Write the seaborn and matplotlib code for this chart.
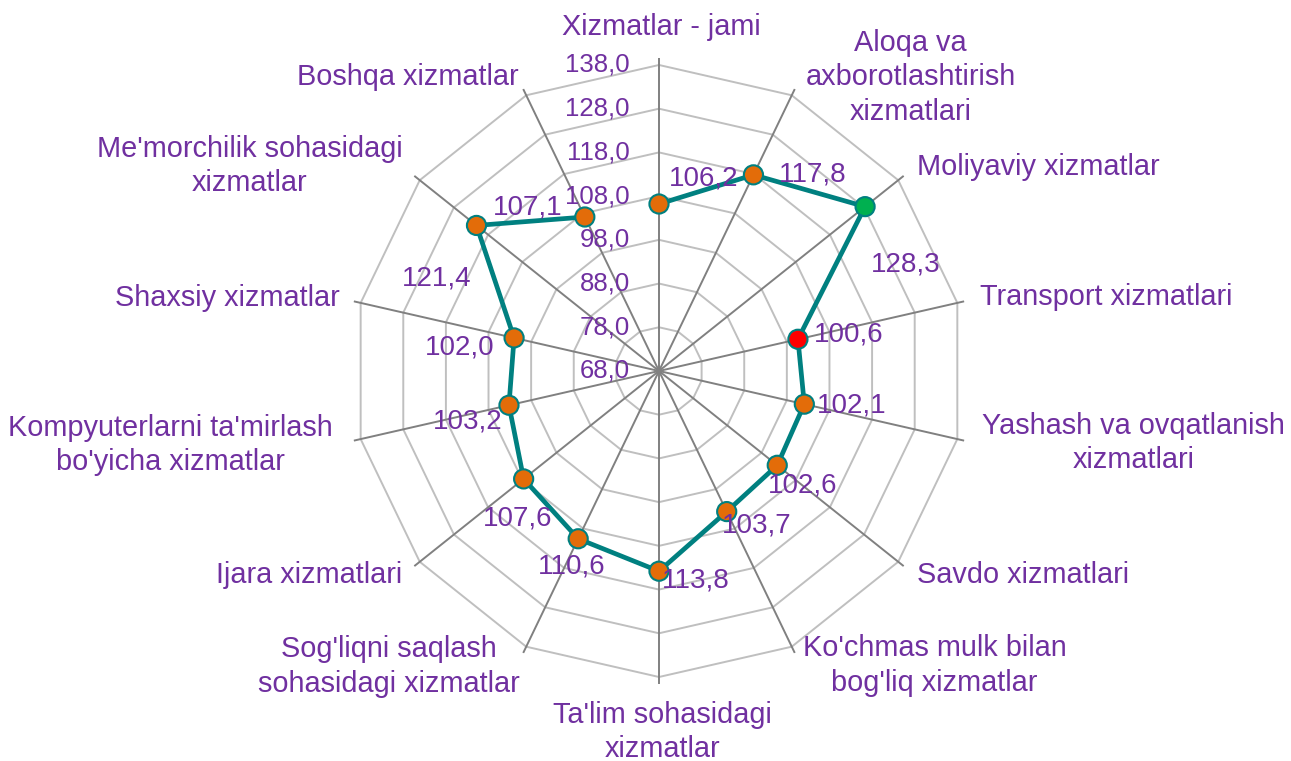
import numpy as np
import pandas as pd
import matplotlib
matplotlib.use("Agg")
import matplotlib.pyplot as plt
import seaborn as sns

# ---------------- data ----------------
categories = [
    "Xizmatlar - jami",
    "Aloqa va\naxborotlashtirish\nxizmatlari",
    "Moliyaviy xizmatlar",
    "Transport xizmatlari",
    "Yashash va ovqatlanish\nxizmatlari",
    "Savdo xizmatlari",
    "Ko'chmas mulk bilan\nbog'liq xizmatlar",
    "Ta'lim sohasidagi\nxizmatlar",
    "Sog'liqni saqlash\nsohasidagi xizmatlar",
    "Ijara xizmatlari",
    "Kompyuterlarni ta'mirlash\nbo'yicha xizmatlar",
    "Shaxsiy xizmatlar",
    "Me'morchilik sohasidagi\nxizmatlar",
    "Boshqa xizmatlar",
]
values = [106.2, 117.8, 128.3, 100.6, 102.1, 102.6, 103.7,
          113.8, 110.6, 107.6, 103.2, 102.0, 121.4, 107.1]
ring_ticks = [68.0, 78.0, 88.0, 98.0, 108.0, 118.0, 128.0, 138.0]
marker_colors = ["#E36C09", "#E36C09", "#00B050", "#FF0000", "#E36C09", "#E36C09", "#E36C09",
                 "#E36C09", "#E36C09", "#E36C09", "#E36C09", "#E36C09", "#E36C09", "#E36C09"]

# ---------------- style ----------------
sns.set_theme(style="white")
plt.rcParams["font.family"] = ["Liberation Sans", "DejaVu Sans"]
PURPLE = "#7030A0"
TEAL = "#008080"

def fmt(v):
    return f"{v:.1f}".replace(".", ",")

n = len(categories)
theta = np.arange(n) * 2 * np.pi / n
r_min, r_max = ring_ticks[0], ring_ticks[-1]
r_edge = 139.6

fig = plt.figure(figsize=(12.91, 7.61), dpi=100)
ax = fig.add_axes([0.268, 0.1012, 0.4849, 0.8226], projection="polar")
ax.set_theta_zero_location("N")
ax.set_theta_direction(-1)
ax.set_ylim(r_min, r_edge)
ax.grid(False)
ax.set_xticks([])
ax.set_yticks([])
ax.spines["polar"].set_visible(False)
ax.patch.set_alpha(0)

theta_closed = np.append(theta, theta[0])

# polygon rings
for r in ring_ticks[1:]:
    ax.plot(theta_closed, [r] * (n + 1), color="#BFBFBF", lw=1.4, zorder=1)
# spokes
for t in theta:
    ax.plot([t, t], [r_min, r_edge], color="#808080", lw=1.4, zorder=1.5)

# tick labels
for r in ring_ticks:
    ax.annotate(fmt(r), xy=(0, r), xytext=(-29, 0), textcoords="offset pixels",
                ha="right", va="center", fontsize=18.5, color=PURPLE, zorder=2)

# data line
df = pd.DataFrame({"theta": theta_closed, "value": values + [values[0]]})
sns.lineplot(data=df, x="theta", y="value", sort=False, ax=ax, color=TEAL, lw=3.4,
             zorder=3, legend=False)
pts = pd.DataFrame({"theta": theta, "value": values, "c": marker_colors})
ax.scatter(pts["theta"], pts["value"], s=190, c=pts["c"], edgecolors=TEAL,
           linewidths=1.5, zorder=4, clip_on=False)

# data labels (offsets in pixels, screen-down positive for second number)
data_off = [(45, -25), (59, 0), (41, 58), (51, -5), (47, 1), (25, 20), (30, 14),
            (37, 9), (-7, 28), (-6, 40), (-41, 16), (-54, 10), (-40, 53), (-57, -9)]
for t, v, (dx, dy) in zip(theta, values, data_off):
    ax.annotate(fmt(v), xy=(t, v), xytext=(dx, -dy), textcoords="offset pixels",
                ha="center", va="center", fontsize=20, color=PURPLE, zorder=5,
                annotation_clip=False)

# category labels
cat_pos = [("center", 2, -38), ("center", 119, -18), ("left", 19, -13), ("left", 23, -6),
           ("left", 25, 4), ("left", 19, 13), ("left", 11, 19), ("center", 3, 55),
           ("right", -6, 20), ("right", -17, 13), ("right", -28, 6), ("right", -21, -5),
           ("right", -17, -14), ("right", -8, -18)]
for t, lab, (ha, dx, dy) in zip(theta, categories, cat_pos):
    ax.annotate(lab, xy=(t, r_max), xytext=(dx, -dy), textcoords="offset pixels",
                ha=ha, va="center", multialignment="center", linespacing=1.3,
                fontsize=20.8, color=PURPLE, annotation_clip=False)

fig.savefig("out.png", dpi=100)
